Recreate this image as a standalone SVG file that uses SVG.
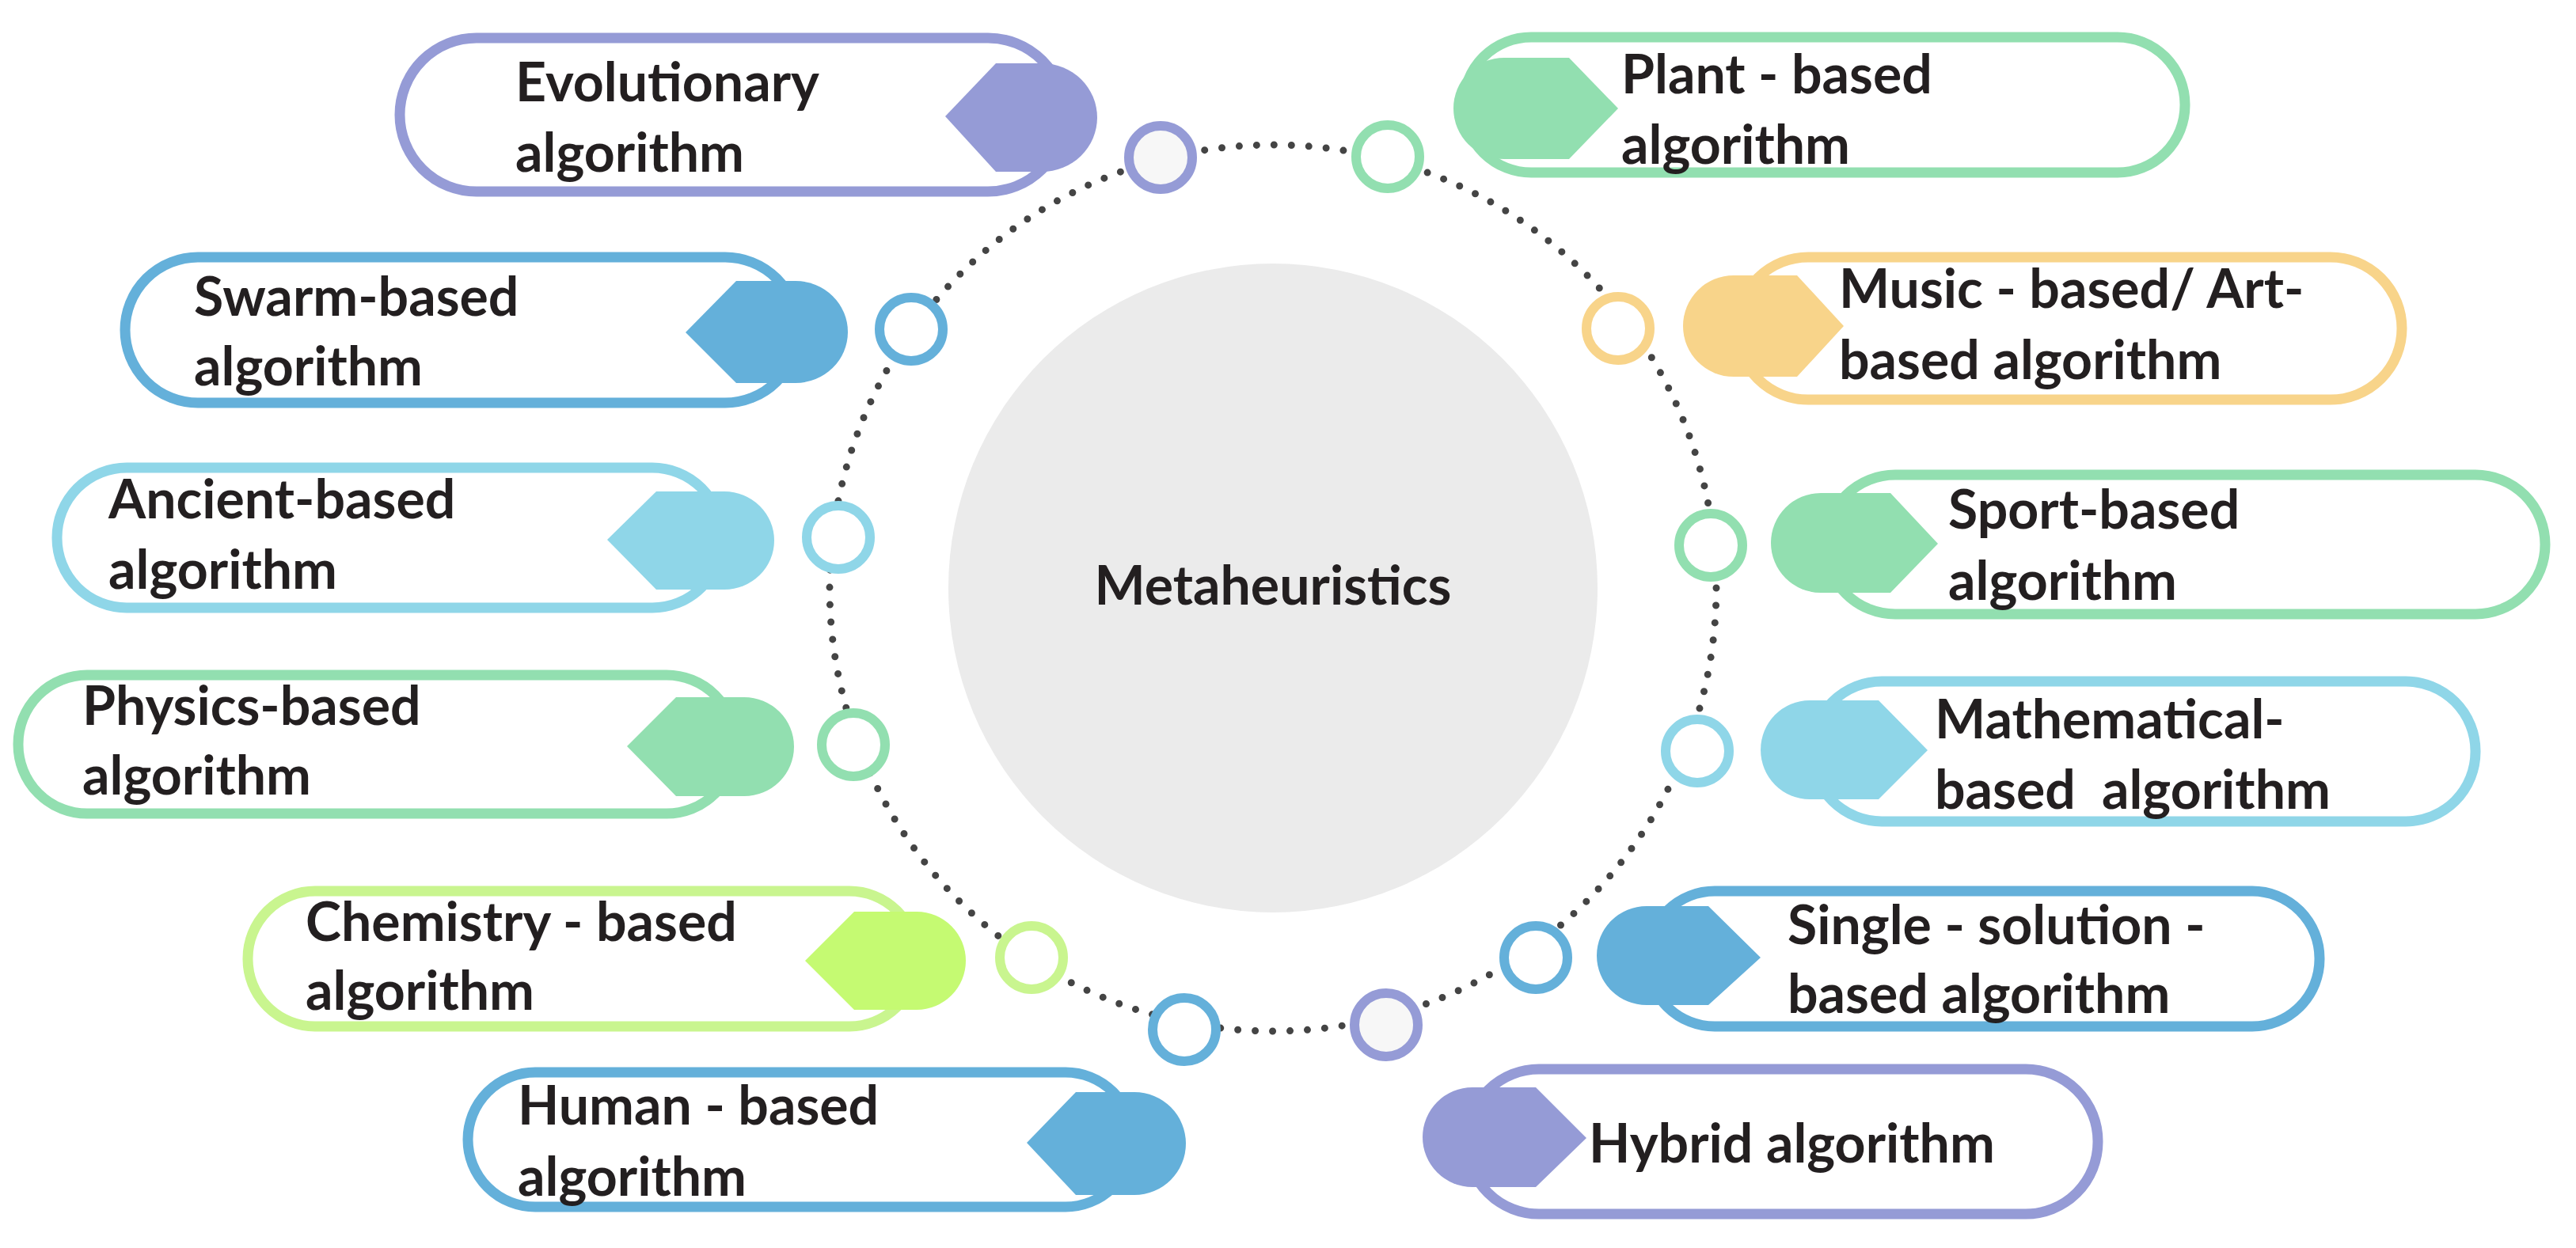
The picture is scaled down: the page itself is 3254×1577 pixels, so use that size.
<svg xmlns="http://www.w3.org/2000/svg" width="3254" height="1577" viewBox="0 0 3254 1577">
<style>
.t{font-family:Lato,"Open Sans","Liberation Sans",sans-serif;font-weight:700;font-size:68px;fill:#231f20}
.p{fill:#fff;stroke-width:13}
.c{stroke-width:12;fill:#fff}
.pu{stroke:#959bd6}.puf{fill:#959bd6}
.bl{stroke:#64b0da}.blf{fill:#64b0da}
.lb{stroke:#8fd6e8}.lbf{fill:#8fd6e8}
.gr{stroke:#92dfb0}.grf{fill:#92dfb0}
.li{stroke:#c9f58f}.lif{fill:#c5fa72}
.ye{stroke:#f8d48a}.yef{fill:#f8d48a}
</style>
<rect width="3254" height="1577" fill="#fff"/>
<g id="center">
<circle cx="1608" cy="743" r="410" fill="#ebebeb"/>
<text class="t" x="1608" y="764" text-anchor="middle">Metaheuristics</text>
</g>
<g id="connectors">
<circle cx="1608" cy="743" r="560" fill="none" stroke="#444" stroke-width="9" stroke-linecap="round" stroke-dasharray="0 22"/>
</g>
<g id="evolutionary">
<rect class="p pu" x="505" y="48" width="840" height="194" rx="97"/>
<path class="puf" d="M1194,147 L1258,80 L1316,80 A70,68.5 0 0 1 1316,217 L1258,217 Z"/>
<circle class="c pu" cx="1466" cy="199" r="40" style="fill:#f7f7f7"/>
<text class="t" x="651" y="128">Evolutionary</text>
<text class="t" x="651" y="217">algorithm</text>
</g>
<g id="swarm">
<rect class="p bl" x="158" y="325" width="850" height="184" rx="92"/>
<path class="blf" d="M866,420 L930,355 L1005,355 A66,64.5 0 0 1 1005,484 L930,484 Z"/>
<circle class="c bl" cx="1151" cy="416" r="40"/>
<text class="t" x="245" y="399">Swarm-based</text>
<text class="t" x="245" y="487">algorithm</text>
</g>
<g id="ancient">
<rect class="p lb" x="72" y="591" width="840" height="177" rx="88"/>
<path class="lbf" d="M767,682 L829,621 L915,621 A63,62 0 0 1 915,745 L829,745 Z"/>
<circle class="c lb" cx="1059" cy="679" r="40"/>
<text class="t" x="137" y="655">Ancient-based</text>
<text class="t" x="137" y="744">algorithm</text>
</g>
<g id="physics">
<rect class="p gr" x="23" y="853" width="906" height="175" rx="87"/>
<path class="grf" d="M792,943 L854,881 L940,881 A63,62.5 0 0 1 940,1006 L854,1006 Z"/>
<circle class="c gr" cx="1078" cy="941" r="40"/>
<text class="t" x="104" y="916">Physics-based</text>
<text class="t" x="104" y="1004">algorithm</text>
</g>
<g id="chemistry">
<rect class="p li" x="313" y="1126" width="845" height="171" rx="85"/>
<path class="lif" d="M1017,1214 L1079,1152 L1158,1152 A62,62 0 0 1 1158,1276 L1079,1276 Z"/>
<circle class="c li" cx="1303" cy="1210" r="40"/>
<text class="t" x="386" y="1189">Chemistry - based</text>
<text class="t" x="386" y="1276">algorithm</text>
</g>
<g id="human">
<rect class="p bl" x="591" y="1355" width="840" height="170" rx="85"/>
<path class="blf" d="M1297,1444 L1359,1380 L1433,1380 A65,65 0 0 1 1433,1510 L1359,1510 Z"/>
<circle class="c bl" cx="1496" cy="1301" r="40"/>
<text class="t" x="654" y="1421">Human - based</text>
<text class="t" x="654" y="1511">algorithm</text>
</g>
<g id="plant">
<rect class="p gr" x="1849" y="47" width="911" height="171" rx="85"/>
<path class="grf" d="M2044,137 L1982,73 L1900,73 A64,64 0 0 0 1900,201 L1982,201 Z"/>
<circle class="c gr" cx="1753" cy="198" r="40"/>
<text class="t" x="2048" y="118">Plant - based</text>
<text class="t" x="2048" y="207">algorithm</text>
</g>
<g id="music">
<rect class="p ye" x="2194" y="325" width="840" height="180" rx="90"/>
<path class="yef" d="M2329,412 L2270,348 L2190,348 A64,64 0 0 0 2190,476 L2270,476 Z"/>
<circle class="c ye" cx="2044" cy="415" r="40"/>
<text class="t" x="2323" y="389">Music - based/ Art-</text>
<text class="t" x="2323" y="479">based algorithm</text>
</g>
<g id="sport">
<rect class="p gr" x="2306" y="600" width="909" height="176" rx="88"/>
<path class="grf" d="M2448,687 L2388,623 L2300,623 A63,63 0 0 0 2300,749 L2388,749 Z"/>
<circle class="c gr" cx="2161" cy="689" r="40"/>
<text class="t" x="2461" y="668">Sport-based</text>
<text class="t" x="2461" y="758">algorithm</text>
</g>
<g id="mathematical">
<rect class="p lb" x="2289" y="861" width="838" height="177" rx="88"/>
<path class="lbf" d="M2435,948 L2373,885 L2286,885 A62,62.5 0 0 0 2286,1010 L2373,1010 Z"/>
<circle class="c lb" cx="2144" cy="949" r="40"/>
<text class="t" x="2444" y="933">Mathematical-</text>
<text class="t" x="2444" y="1022" xml:space="preserve">based  algorithm</text>
</g>
<g id="single">
<rect class="p bl" x="2081" y="1126" width="849" height="171" rx="85"/>
<path class="blf" d="M2224,1210 L2158,1145 L2080,1145 A63,62.5 0 0 0 2080,1270 L2158,1270 Z"/>
<circle class="c bl" cx="1940" cy="1210" r="40"/>
<text class="t" x="2258" y="1193">Single - solution -</text>
<text class="t" x="2258" y="1280">based algorithm</text>
</g>
<g id="hybrid">
<rect class="p pu" x="1853" y="1351" width="797" height="183" rx="91"/>
<path class="puf" d="M2004,1438 L1940,1374 L1860,1374 A63,63 0 0 0 1860,1500 L1940,1500 Z"/>
<circle class="c pu" cx="1751" cy="1295" r="40" style="fill:#f7f7f7"/>
<text class="t" x="2007" y="1469">Hybrid algorithm</text>
</g>
</svg>
